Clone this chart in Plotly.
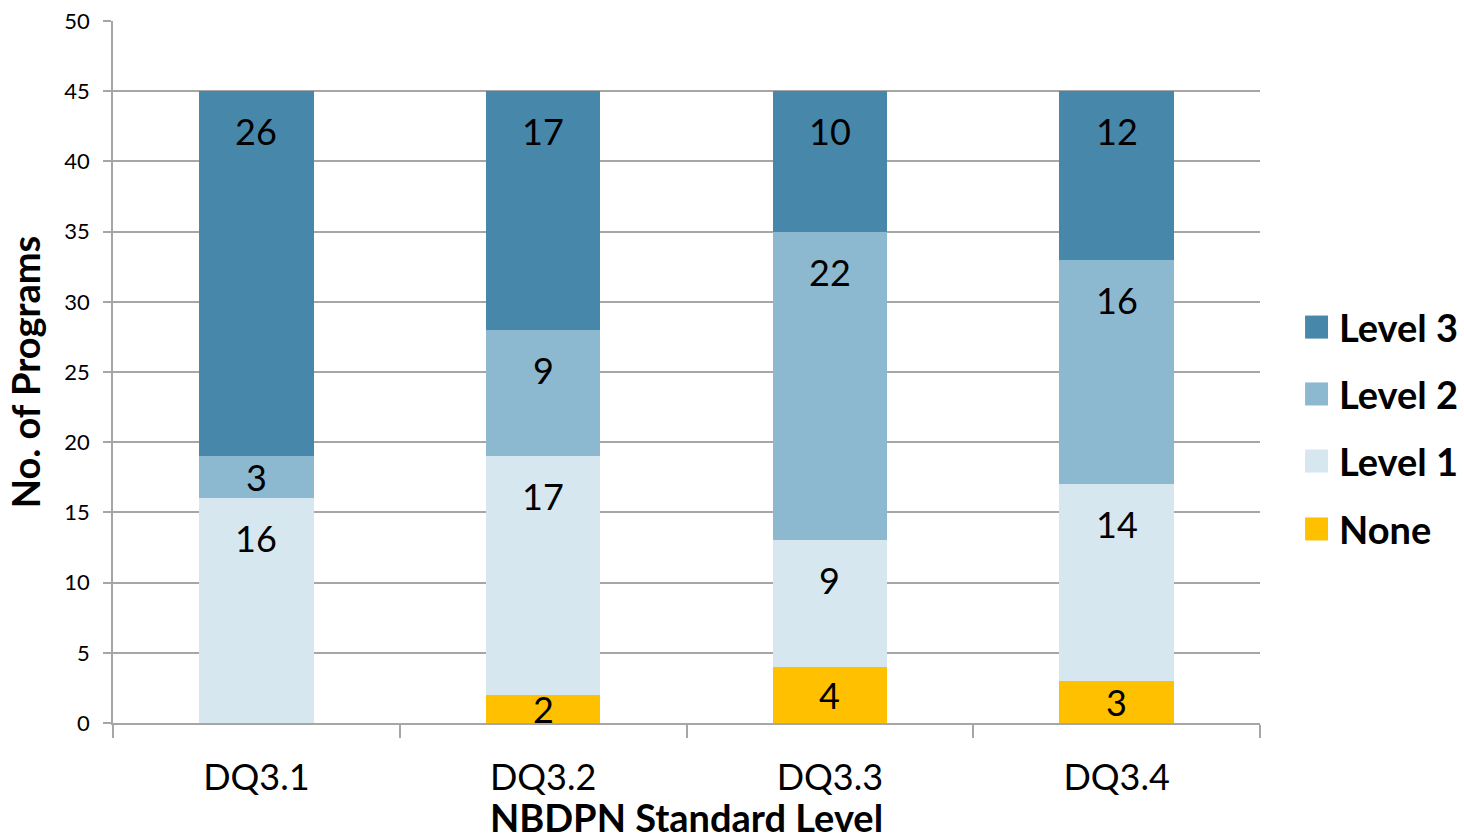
import plotly.graph_objects as go

# Data: number of programs at each NBDPN standard level per data-quality item
categories = ["DQ3.1", "DQ3.2", "DQ3.3", "DQ3.4"]
none_vals = [0, 2, 4, 3]
level1_vals = [16, 17, 9, 14]
level2_vals = [3, 9, 22, 16]
level3_vals = [26, 17, 10, 12]

series_names = ["None", "Level 1", "Level 2", "Level 3"]
series_values = [none_vals, level1_vals, level2_vals, level3_vals]
series_colors = ["#FFC000", "#D7E7EF", "#8CB9D0", "#4787AA"]

y_ticks = [0, 5, 10, 15, 20, 25, 30, 35, 40, 45, 50]

FONT = "Lato, 'Open Sans', sans-serif"
GRID = "#A6A6A6"

fig = go.Figure()
for name, vals, color in zip(series_names, series_values, series_colors):
    fig.add_trace(go.Bar(
        x=categories, y=vals, name=name,
        marker=dict(color=color, line=dict(width=0)),
        showlegend=False,
    ))

# Value labels: placed near the top of each segment, centred when the segment is short
label_offset = 2.85
annotations = []
for ci, cat in enumerate(categories):
    base = 0
    for vals in series_values:
        v = vals[ci]
        if v > 0:
            top = base + v
            y = max(base + v / 2, top - label_offset)
            annotations.append(dict(
                x=cat, y=y, xref="x", yref="y", text=str(v), showarrow=False,
                font=dict(family=FONT, size=36, color="black"),
                xanchor="center", yanchor="middle",
            ))
        base += v

# Legend drawn as swatches with labels on the right side
legend_y = [0.2764, 0.3732, 0.4687, 0.564]
shapes = []
half = 0.0164
for name, color, ly in zip(series_names, series_colors, legend_y):
    shapes.append(dict(
        type="rect", xref="paper", yref="paper",
        x0=1.0393, x1=1.0593, y0=ly - half, y1=ly + half,
        fillcolor=color, line=dict(width=0),
    ))
    annotations.append(dict(
        x=1.0672, y=ly, xref="paper", yref="paper", text=f"<b>{name}</b>",
        showarrow=False, xanchor="left", yanchor="middle",
        font=dict(family=FONT, size=38, color="black"),
    ))

fig.update_layout(
    barmode="stack",
    bargap=0.6,
    width=1464, height=840,
    margin=dict(l=113, r=204, t=21, b=117),
    paper_bgcolor="white", plot_bgcolor="white",
    font=dict(family=FONT, color="black"),
    annotations=annotations,
    shapes=shapes,
    showlegend=False,
)

fig.update_xaxes(
    automargin=False,
    showline=True, linecolor=GRID, linewidth=1.5,
    ticks="outside", tickson="boundaries", ticklen=13, tickcolor=GRID, tickwidth=1.5,
    tickfont=dict(family=FONT, size=36, color="black"),
    ticklabelstandoff=22,
    title=dict(text="<b>NBDPN Standard Level</b>", font=dict(family=FONT, size=38, color="black"), standoff=10),
    showgrid=False,
)
fig.update_yaxes(
    automargin=False,
    range=[0, 50], tickvals=y_ticks,
    showgrid=True, gridcolor=GRID, gridwidth=1.5,
    showline=True, linecolor=GRID, linewidth=1.5,
    ticks="outside", ticklen=8, tickcolor=GRID, tickwidth=1.5,
    tickfont=dict(family=FONT, size=22, color="black"),
    ticklabelstandoff=9,
    title=dict(text="<b>No. of Programs</b>", font=dict(family=FONT, size=38, color="black"), standoff=12),
    zeroline=False,
)

fig.write_html("out.html")
